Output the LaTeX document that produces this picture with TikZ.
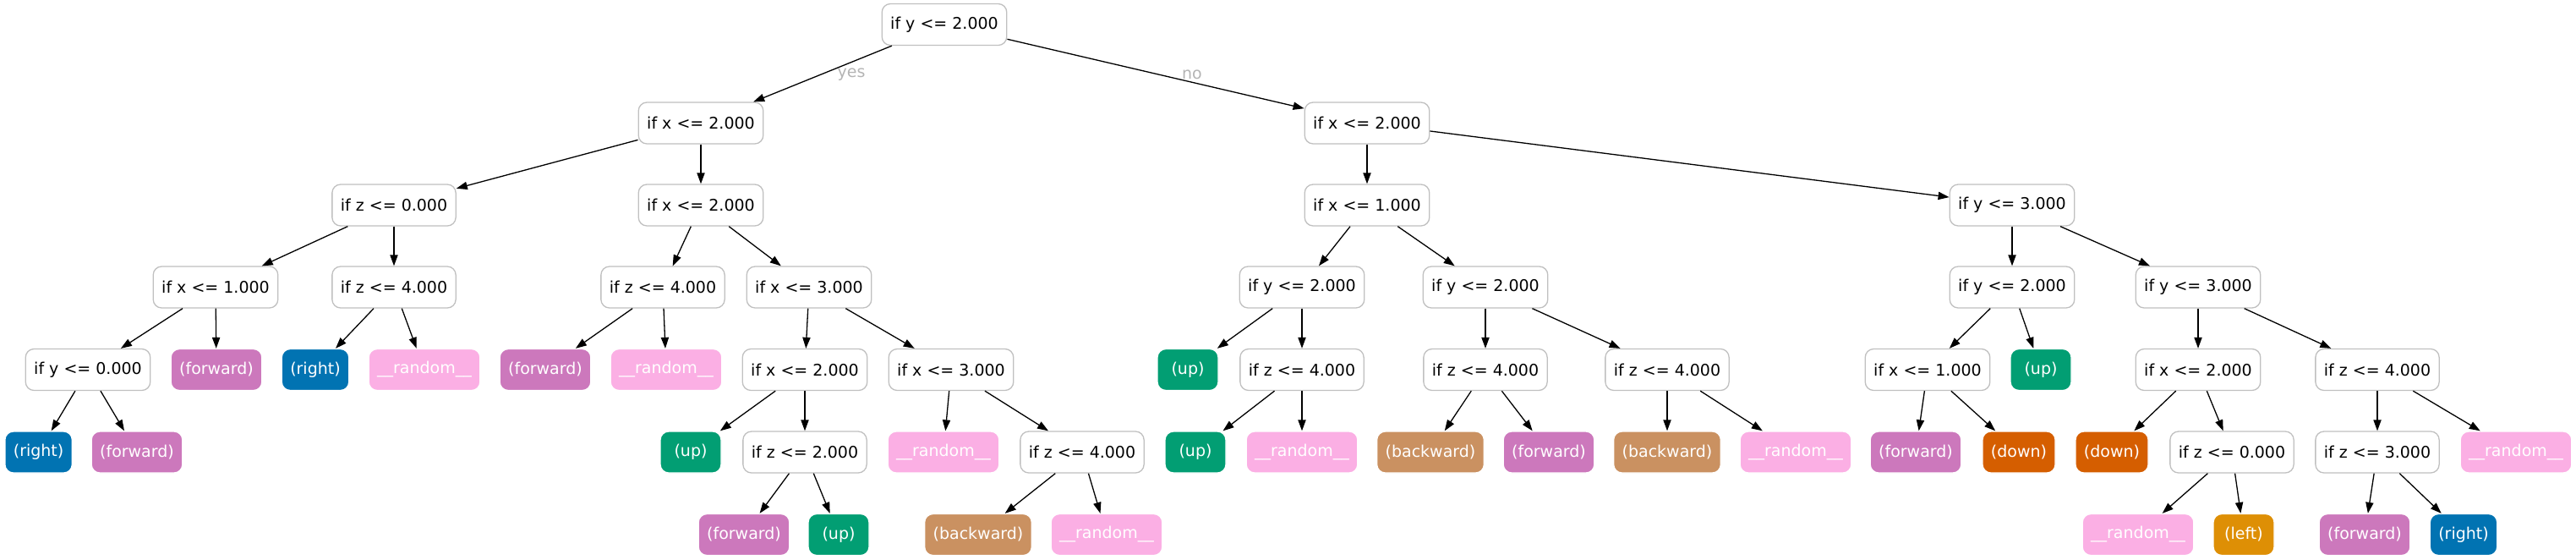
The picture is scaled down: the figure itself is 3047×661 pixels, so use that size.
\documentclass[tikz,border=0pt]{standalone}
\usepackage{fontspec}
\setmainfont{DejaVu Sans}
\usetikzlibrary{arrows.meta}
\definecolor{cfwd}{HTML}{CC78BC}
\definecolor{crgt}{HTML}{0173B2}
\definecolor{cup}{HTML}{029E73}
\definecolor{crnd}{HTML}{FBAFE4}
\definecolor{cbwd}{HTML}{CA9161}
\definecolor{cdwn}{HTML}{D55E00}
\definecolor{clft}{HTML}{DE8F05}
\definecolor{cbord}{HTML}{C0C0C0}
\definecolor{clbl}{HTML}{B4B4B4}
\tikzset{
  box/.style={rounded corners=5pt, minimum width=36pt, minimum height=24.5pt,
    inner xsep=5pt, inner ysep=0pt, line width=0.65pt,
    font=\fontsize{9.5}{11}\selectfont},
  dec/.style={box, draw=cbord, fill=white, text=black},
  leaf/.style={box, draw=white, fill=#1, text=white},
  edge/.style={-{Triangle[length=6.5pt,width=4.6pt]}, line width=0.65pt, black},
  lbl/.style={text=clbl, font=\fontsize{9.5}{11}\selectfont, inner sep=0pt}
}
\begin{document}
\begin{tikzpicture}[x=0.5pt,y=-0.5pt]
\useasboundingbox (0,0) rectangle (3047,661);
\def\La{29}\def\Lb{145.5}\def\Lc{242.5}\def\Ld{339.5}\def\Le{437}\def\Lf{534.5}\def\Lg{632}
% decision nodes
\node[dec] (n0) at (1117,\La) {if y <= 2.000};
\node[dec] (n1) at (829,\Lb) {if x <= 2.000};
\node[dec] (n2) at (1617,\Lb) {if x <= 2.000};
\node[dec] (n3) at (466,\Lc) {if z <= 0.000};
\node[dec] (n4) at (829,\Lc) {if x <= 2.000};
\node[dec] (n5) at (255,\Ld) {if x <= 1.000};
\node[dec] (n6) at (466,\Ld) {if z <= 4.000};
\node[dec] (n7) at (104,\Le) {if y <= 0.000};
\node[leaf=cfwd] (n8) at (256,\Le) {(forward)};
\node[leaf=crgt] (n9) at (45.6,\Lf) {(right)};
\node[leaf=cfwd] (n10) at (162,\Lf) {(forward)};
\node[leaf=crgt] (n11) at (373,\Le) {(right)};
\node[leaf=crnd] (n12) at (502,\Le) {\_\_random\_\_};
\node[dec] (n13) at (784,\Ld) {if z <= 4.000};
\node[dec] (n14) at (957,\Ld) {if x <= 3.000};
\node[leaf=cfwd] (n15) at (645,\Le) {(forward)};
\node[leaf=crnd] (n16) at (788,\Le) {\_\_random\_\_};
\node[dec] (n17) at (952,\Le) {if x <= 2.000};
\node[dec] (n18) at (1125,\Le) {if x <= 3.000};
\node[leaf=cup] (n19) at (817,\Lf) {(up)};
\node[dec] (n20) at (952,\Lf) {if z <= 2.000};
\node[leaf=cfwd] (n21) at (880,\Lg) {(forward)};
\node[leaf=cup] (n22) at (992,\Lg) {(up)};
\node[leaf=crnd] (n23) at (1116,\Lf) {\_\_random\_\_};
\node[dec] (n24) at (1280,\Lf) {if z <= 4.000};
\node[leaf=cbwd] (n25) at (1157,\Lg) {(backward)};
\node[leaf=crnd] (n26) at (1309,\Lg) {\_\_random\_\_};
\node[dec] (n27) at (1617,\Lc) {if x <= 1.000};
\node[dec] (n28) at (2380,\Lc) {if y <= 3.000};
\node[dec] (n29) at (1540,\Ld) {if y <= 2.000};
\node[dec] (n30) at (1757,\Ld) {if y <= 2.000};
\node[leaf=cup] (n31) at (1405,\Le) {(up)};
\node[dec] (n32) at (1540,\Le) {if z <= 4.000};
\node[leaf=cup] (n33) at (1414,\Lf) {(up)};
\node[leaf=crnd] (n34) at (1540,\Lf) {\_\_random\_\_};
\node[dec] (n35) at (1757,\Le) {if z <= 4.000};
\node[dec] (n36) at (1972,\Le) {if z <= 4.000};
\node[leaf=cbwd] (n37) at (1692,\Lf) {(backward)};
\node[leaf=cfwd] (n38) at (1832,\Lf) {(forward)};
\node[leaf=cbwd] (n39) at (1972,\Lf) {(backward)};
\node[leaf=crnd] (n40) at (2124,\Lf) {\_\_random\_\_};
\node[dec] (n41) at (2380,\Ld) {if y <= 2.000};
\node[dec] (n42) at (2600,\Ld) {if y <= 3.000};
\node[dec] (n43) at (2280,\Le) {if x <= 1.000};
\node[leaf=cup] (n44) at (2414,\Le) {(up)};
\node[leaf=cfwd] (n45) at (2266,\Lf) {(forward)};
\node[leaf=cdwn] (n46) at (2388,\Lf) {(down)};
\node[dec] (n47) at (2600,\Le) {if x <= 2.000};
\node[dec] (n48) at (2812,\Le) {if z <= 4.000};
\node[leaf=cdwn] (n49) at (2498,\Lf) {(down)};
\node[dec] (n50) at (2640,\Lf) {if z <= 0.000};
\node[leaf=crnd] (n51) at (2529,\Lg) {\_\_random\_\_};
\node[leaf=clft] (n52) at (2654,\Lg) {(left)};
\node[dec] (n53) at (2812,\Lf) {if z <= 3.000};
\node[leaf=crnd] (n54) at (2976,\Lf) {\_\_random\_\_};
\node[leaf=cfwd] (n55) at (2797,\Lg) {(forward)};
\node[leaf=crgt] (n56) at (2914,\Lg) {(right)};
% edge labels
\node[lbl] (lyes) at (1007,88) {yes};
\node[lbl] (lno) at (1410,88) {no};
% edges
\foreach \a/\b in {n0/n1,n0/n2,n1/n3,n1/n4,n3/n5,n3/n6,n5/n7,n5/n8,n7/n9,n7/n10,
  n6/n11,n6/n12,n4/n13,n4/n14,n13/n15,n13/n16,n14/n17,n14/n18,n17/n19,n17/n20,
  n20/n21,n20/n22,n18/n23,n18/n24,n24/n25,n24/n26,n2/n27,n2/n28,n27/n29,n27/n30,
  n29/n31,n29/n32,n32/n33,n32/n34,n30/n35,n30/n36,n35/n37,n35/n38,n36/n39,n36/n40,
  n28/n41,n28/n42,n41/n43,n41/n44,n43/n45,n43/n46,n42/n47,n42/n48,n47/n49,n47/n50,
  n50/n51,n50/n52,n48/n53,n48/n54,n53/n55,n53/n56}
  \draw[edge] (\a) -- (\b);
\end{tikzpicture}
\end{document}
